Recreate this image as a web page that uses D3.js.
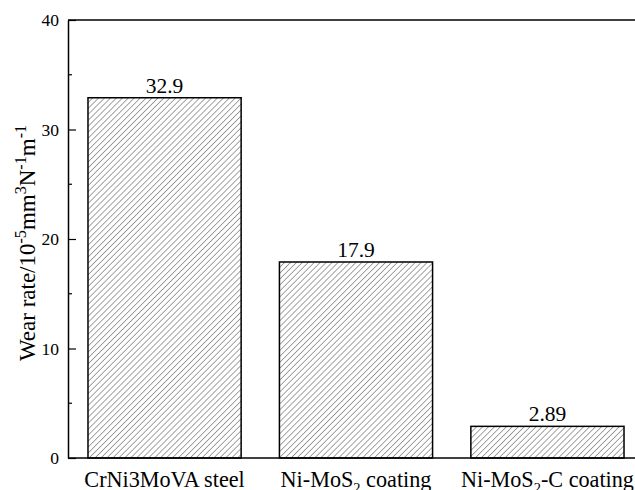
<!DOCTYPE html>
<html>
<head>
<meta charset="utf-8">
<script src="https://cdn.jsdelivr.net/npm/d3@7"></script>
</head>
<body style="margin:0; background:#fff">
<svg id="chart" width="635" height="490" style="display:block"></svg>
<script>
// Wear rate of each specimen, in 10^-5 mm^3 N^-1 m^-1
const categories = ["CrNi3MoVA steel", "Ni-MoS2 coating", "Ni-MoS2-C coating"];
const wearRates = [32.9, 17.9, 2.89];
const valueLabels = ["32.9", "17.9", "2.89"];
const yTicks = [0, 10, 20, 30, 40];
const yMinorTicks = [5, 15, 25, 35];

const svg = d3.select("#chart");
const W = 635, H = 490;
const plotLeft = 68, plotTop = 20, plotBottom = 458;
const serif = "Liberation Serif";

const x = d3.scaleBand()
  .domain(categories)
  .range([plotLeft, 644])
  .paddingInner(0.2)
  .paddingOuter(0.1044);

const y = d3.scaleLinear().domain([0, 40]).range([plotBottom, plotTop]);

// diagonal hatch fill
const defs = svg.append("defs");
const pat = defs.append("pattern")
  .attr("id", "hatch")
  .attr("patternUnits", "userSpaceOnUse")
  .attr("width", 4.2)
  .attr("height", 4.2)
  .attr("patternTransform", "rotate(45)");
pat.append("rect").attr("width", 4.2).attr("height", 4.2).attr("fill", "#fff");
pat.append("line")
  .attr("x1", 0).attr("y1", 0).attr("x2", 0).attr("y2", 4.2)
  .attr("stroke", "#5a5a5a").attr("stroke-width", 1.1);

// bars
svg.append("g").selectAll("rect")
  .data(categories)
  .join("rect")
  .attr("x", d => x(d))
  .attr("y", (d, i) => y(wearRates[i]))
  .attr("width", x.bandwidth())
  .attr("height", (d, i) => y(0) - y(wearRates[i]))
  .attr("fill", "url(#hatch)")
  .attr("stroke", "#000")
  .attr("stroke-width", 1.5);

// value labels
svg.append("g").selectAll("text")
  .data(categories)
  .join("text")
  .attr("x", d => x(d) + x.bandwidth() / 2)
  .attr("y", (d, i) => y(wearRates[i]) - 5)
  .attr("text-anchor", "middle")
  .attr("fill", "#000")
  .style("font-family", serif)
  .style("font-size", "21.5px")
  .text((d, i) => valueLabels[i]);

// y axis with inward ticks
const yAxis = d3.axisLeft(y)
  .tickValues(yTicks)
  .tickSizeInner(-8)
  .tickSizeOuter(0)
  .tickPadding(9)
  .tickFormat(d3.format("d"));
const gy = svg.append("g").attr("transform", `translate(${plotLeft},0)`).call(yAxis);
gy.select(".domain").attr("stroke", "#000").attr("stroke-width", 1.5);
gy.selectAll(".tick line").attr("stroke", "#000").attr("stroke-width", 1.2);
gy.selectAll(".tick text")
  .style("font-family", serif)
  .style("font-size", "17.5px")
  .attr("fill", "#000");

svg.append("g").selectAll("line")
  .data(yMinorTicks)
  .join("line")
  .attr("x1", plotLeft).attr("x2", plotLeft + 4)
  .attr("y1", d => y(d)).attr("y2", d => y(d))
  .attr("stroke", "#000").attr("stroke-width", 1.2);

// bottom and top frame lines
const xAxis = d3.axisBottom(x).tickSize(0).tickPadding(14).tickFormat("");
const gx = svg.append("g").attr("transform", `translate(0,${plotBottom})`).call(xAxis);
gx.select(".domain").attr("d", `M${plotLeft},0H${W}`).attr("stroke", "#000").attr("stroke-width", 1.5);

svg.append("line")
  .attr("x1", plotLeft).attr("x2", W)
  .attr("y1", plotTop).attr("y2", plotTop)
  .attr("stroke", "#000").attr("stroke-width", 1.5);

// category labels with chemical subscripts
function writeFormula(sel, label, size) {
  const parts = label.split(/(?<=MoS)(2)/);
  let afterSub = false;
  parts.forEach(p => {
    if (p === "2") {
      sel.append("tspan").style("font-size", (size * 0.65) + "px").attr("dy", size * 0.25).text(p);
      afterSub = true;
    } else if (p.length) {
      const t = sel.append("tspan").text(p);
      if (afterSub) t.attr("dy", -size * 0.25);
      afterSub = false;
    }
  });
}
const catSize = 22.2;
gx.selectAll(".tick").each(function(d) {
  const t = d3.select(this).append("text")
    .attr("y", 29)
    .attr("text-anchor", "middle")
    .attr("fill", "#000")
    .style("font-family", serif)
    .style("font-size", catSize + "px");
  writeFormula(t, d, catSize);
});

// y axis title with superscripts
const fs = 23;
const yt = svg.append("text")
  .attr("transform", `translate(35,243) rotate(-90)`)
  .attr("text-anchor", "middle")
  .attr("fill", "#000")
  .style("font-family", serif)
  .style("font-size", fs + "px");
[["Wear rate/10", false], ["-5", true], ["mm", false], ["3", true], ["N", false], ["-1", true], ["m", false], ["-1", true]]
  .forEach(([s, sup], i) => {
    const ts = yt.append("tspan").text(s);
    if (sup) ts.style("font-size", (fs * 0.7) + "px").attr("dy", -fs * 0.4);
    else if (i > 0) ts.attr("dy", fs * 0.4);
  });
</script>
</body>
</html>
